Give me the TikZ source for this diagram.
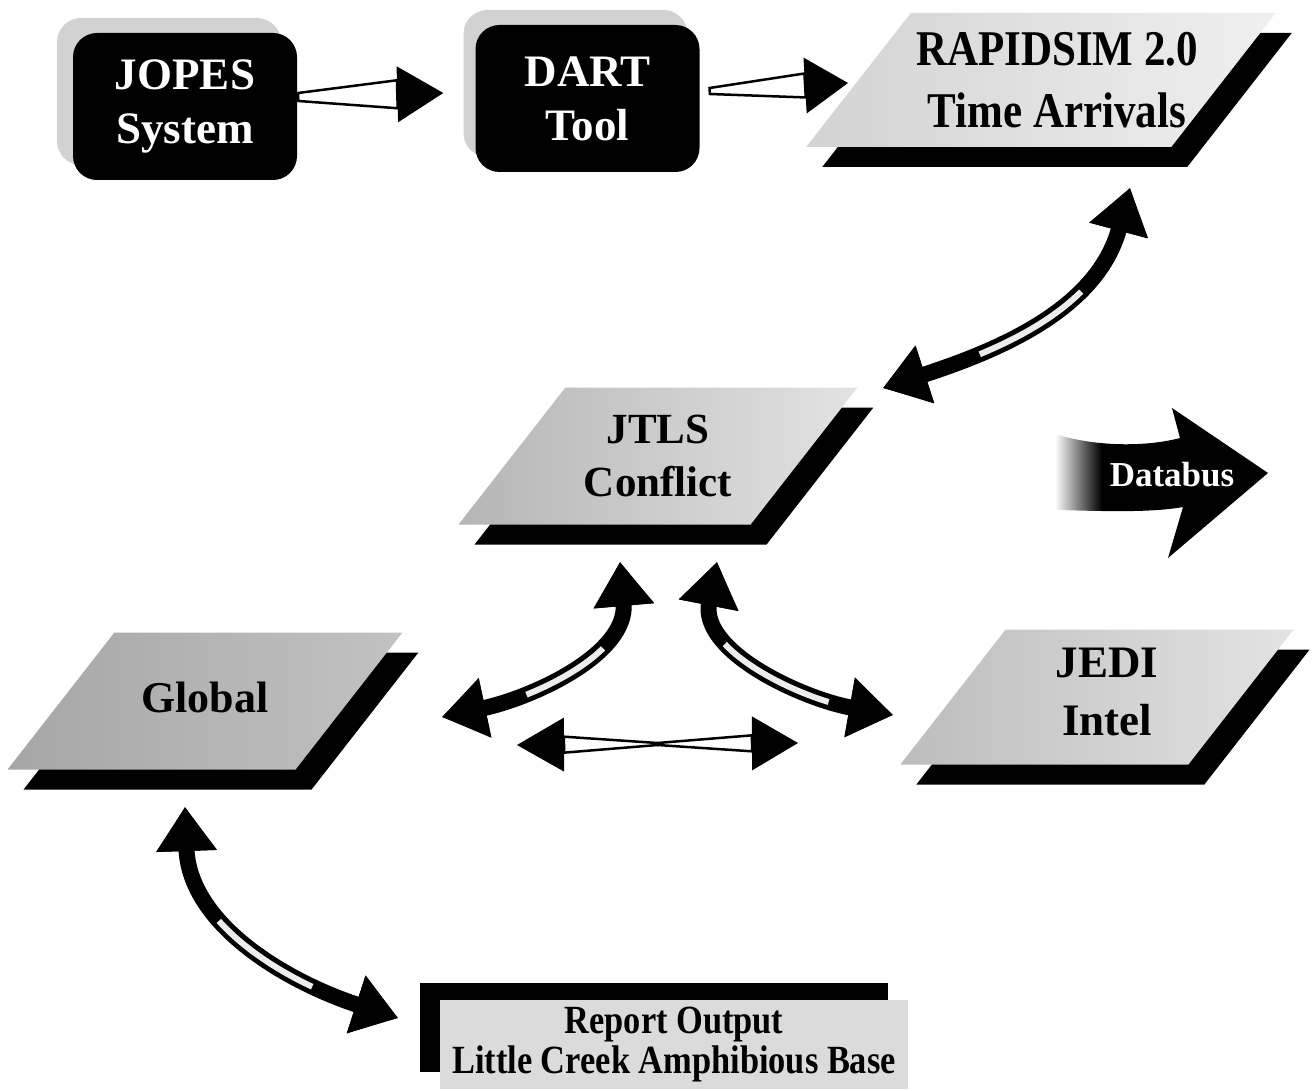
\documentclass[tikz,border=0pt]{standalone}
\usepackage{fontspec}
\setmainfont{Liberation Serif}
\newfontfamily\narrowfont[FakeStretch=0.86]{Liberation Serif}
\usetikzlibrary{arrows.meta, calc, positioning, shadows}

\pgfdeclarehorizontalshading{busfade}{100bp}{color(0bp)=(white); color(25bp)=(white); color(36bp)=(black); color(100bp)=(black)}

\tikzset{
  box/.style={rectangle, rounded corners=24pt, fill=black, text=white, align=center,
    minimum width=224pt, minimum height=147pt, inner sep=0pt,
    font=\bfseries\fontsize{45}{54}\selectfont},
  slabtext/.style={align=center, inner sep=0pt, font=\bfseries\fontsize{44}{54}\selectfont},
  shaft/.style={fill=white, draw=black, line width=2.5pt, line join=miter},
  fatarrow/.style 2 args={line width=16pt,
    {Triangle[length=44pt,width=58pt,color=black]}-{Triangle[length=44pt,width=58pt,color=black]},
    postaction={draw=gray!15, line width=6pt, dash pattern=on 0pt off #1 on #2 off 3000pt}}
}

% centre, half width, half height, face options
\newcommand{\slab}[4]{%
  \fill[black] ($(#1)+(16,-20)$) +(-#2-0.78*#3,-#3) -- +(#2-0.78*#3,-#3) -- +(#2+0.78*#3,#3) -- +(-#2+0.78*#3,#3) -- cycle;
  \path[#4] (#1) +(-#2-0.78*#3,-#3) -- +(#2-0.78*#3,-#3) -- +(#2+0.78*#3,#3) -- +(-#2+0.78*#3,#3) -- cycle;
}

\newcommand{\hollowarrow}[6]{%
  \coordinate (hb) at ($(#2)!#6!(#1)$);
  \filldraw[shaft] ($(#1)!#3!90:(#2)$) -- ($(hb)!#4!90:(#2)$) -- ($(hb)!#4!-90:(#2)$) -- ($(#1)!#3!-90:(#2)$) -- cycle;
  \fill ($(hb)!#5!90:(#2)$) -- (#2) -- ($(hb)!#5!-90:(#2)$) -- cycle;
}

\begin{document}
\begin{tikzpicture}[x=1pt, y=1pt]
    \useasboundingbox (0,0) rectangle (1314,-1091);

    \node[box, drop shadow={shadow xshift=-16pt, shadow yshift=15pt, fill=gray!35, opacity=1}] (jopes) at (185,-106.5) {JOPES\\System};
    \node[box, drop shadow={shadow xshift=-12pt, shadow yshift=15pt, fill=gray!35, opacity=1}] (dart) at (587.5,-98.5) {DART\\Tool};

    \slab{1041,-80}{182.5}{67}{left color=gray!35, right color=gray!12}
    \slab{658,-456}{146}{68.5}{left color=gray!58, right color=gray!22}
    \slab{205,-701}{144}{68.5}{left color=gray!70, right color=gray!48}
    \slab{1097,-697}{144}{67.5}{left color=gray!52, right color=gray!22}

    \node[slabtext, font=\narrowfont\bfseries\fontsize{50}{62}\selectfont] (rapid) at (1057,-80) {RAPIDSIM 2.0\\Time Arrivals};
    \node[slabtext, font=\bfseries\fontsize{43}{53}\selectfont] (jtls) at (658,-456) {JTLS\\Conflict};
    \node[slabtext] (global) at (205,-697) {Global};
    \node[slabtext, font=\bfseries\fontsize{45}{58}\selectfont] (jedi) at (1107,-692) {JEDI\\Intel};

    \node[rectangle, fill=gray!28, minimum width=468pt, minimum height=89pt, inner sep=0pt, align=center,
      font=\narrowfont\bfseries\fontsize{40}{40}\selectfont,
      drop shadow={shadow xshift=-20pt, shadow yshift=17pt, fill=black, opacity=1}] (report) at (674,-1044.5) {Report Output\\Little Creek Amphibious Base};

    \shade[shading=busfade] (1055,-434) .. controls (1100,-448) and (1150,-446) .. (1180,-438) -- (1172,-408) -- (1268,-473)
      -- (1168,-558) -- (1183,-507) .. controls (1150,-513) and (1100,-511) .. (1056,-510) -- cycle;
    \node[text=white, font=\bfseries\fontsize{35}{40}\selectfont] (databus) at (1172,-475) {Databus};

    \coordinate (a1s) at ($(jopes.east)+(1,9.5)$);
    \coordinate (a1e) at ($(dart.west)+(-32,5.5)$);
    \hollowarrow{a1s}{a1e}{4pt}{14pt}{28pt}{46pt}
    \coordinate (a2s) at ($(dart.east)+(10,7.5)$);
    \coordinate (a2e) at ($(rapid)+(-209,-3)$);
    \hollowarrow{a2s}{a2e}{3pt}{12pt}{28pt}{43pt}

    \coordinate (gtip) at ($(global)+(312,-48)$);
    \coordinate (jtip) at ($(jedi)+(-309,-51)$);
    \coordinate (mid) at ($(gtip)!0.5!(jtip)$);
    \hollowarrow{mid}{gtip}{1pt}{8pt}{27pt}{47pt}
    \hollowarrow{mid}{jtip}{1pt}{8pt}{27pt}{46pt}

    \draw[fatarrow={60pt}{120pt}] ($(jtls)+(225,68)$) to[out=18, in=255] ($(rapid)+(73,-108)$);
    \draw[fatarrow={45pt}{90pt}] ($(global)+(237,-20)$) to[out=12, in=275] ($(jtls)+(-38,-106)$);
    \draw[fatarrow={45pt}{120pt}] ($(jtls)+(59,-106)$) to[out=259, in=170] ($(jedi)+(-214,-23)$);
    \draw[fatarrow={80pt}{115pt}] ($(global)+(-20,-110)$) to[out=272, in=162] ($(report)+(-276,26.5)$);
\end{tikzpicture}
\end{document}
